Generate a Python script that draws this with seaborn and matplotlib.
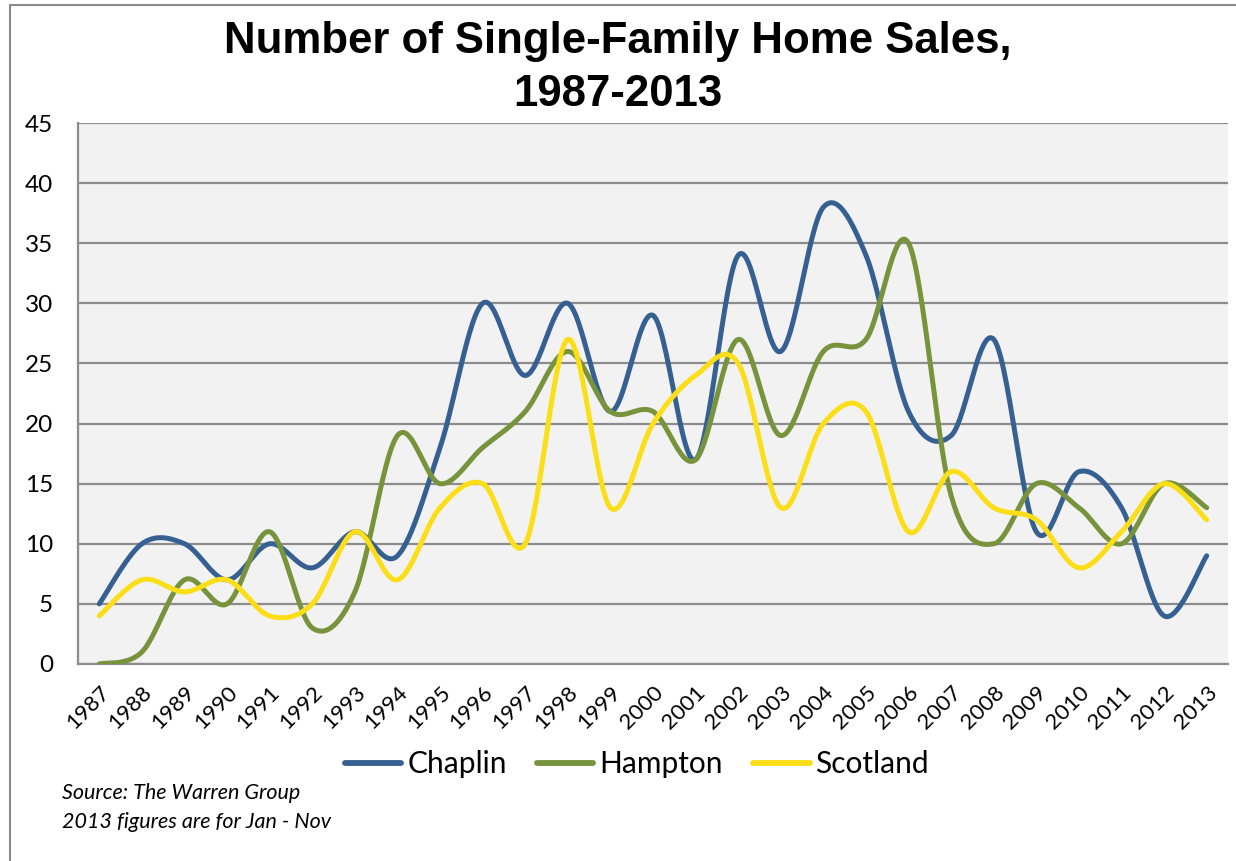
import numpy as np
import pandas as pd
import matplotlib
matplotlib.use("Agg")
import matplotlib.pyplot as plt
import seaborn as sns

years = list(range(1987, 2014))
chaplin = [5, 10, 10, 7, 10, 8, 11, 9, 18, 30, 24, 30, 21, 29, 17, 34, 26, 38, 34, 21, 19, 27, 11, 16, 13, 4, 9]
hampton = [0, 1, 7, 5, 11, 3, 6, 19, 15, 18, 21, 26, 21, 21, 17, 27, 19, 26, 27, 35, 14, 10, 15, 13, 10, 15, 13]
scotland = [4, 7, 6, 7, 4, 5, 11, 7, 13, 15, 10, 27, 13, 20, 24, 25, 13, 20, 21, 11, 16, 13, 12, 8, 11, 15, 12]
towns = ["Chaplin", "Hampton", "Scotland"]
colors = {"Chaplin": "#376092", "Hampton": "#77933C", "Scotland": "#FCDE16"}


def smooth(xs, ys, n=30):
    # excel-style smoothed line (catmull-rom bezier), only for drawing
    p = np.column_stack([xs, ys]).astype(float)
    p = np.vstack([p[0], p, p[-1]])
    out = []
    t = np.linspace(0, 1, n)[:, None]
    for i in range(1, len(p) - 2):
        p0, p1, p2, p3 = p[i - 1], p[i], p[i + 1], p[i + 2]
        c1 = p1 + (p2 - p0) / 6
        c2 = p2 - (p3 - p1) / 6
        seg = ((1 - t) ** 3) * p1 + 3 * ((1 - t) ** 2) * t * c1 + 3 * (1 - t) * t ** 2 * c2 + t ** 3 * p2
        out.append(seg if i == 1 else seg[1:])
    return np.vstack(out)


rows = []
for name, vals in zip(towns, [chaplin, hampton, scotland]):
    curve = smooth(np.arange(len(years)), vals)
    for x, y in curve:
        rows.append({"x": x, "y": y, "town": name})
df = pd.DataFrame(rows)

sns.set_style("white")
plt.rcParams["font.family"] = ["Lato", "DejaVu Sans"]
plt.rcParams["text.color"] = "black"
plt.rcParams["xtick.color"] = "black"
plt.rcParams["ytick.color"] = "black"

fig = plt.figure(figsize=(12.36, 8.61), dpi=100)
ax = fig.add_axes([78 / 1236, 1 - 664 / 861, (1228 - 78) / 1236, (664 - 123) / 861])
ax.set_facecolor("#F2F2F2")

sns.lineplot(data=df, x="x", y="y", hue="town", palette=colors, sort=False,
             estimator=None, linewidth=3.6, ax=ax, zorder=3)

ax.set_xlim(-0.5, len(years) - 0.5)
ax.set_ylim(0, 45)
ax.set_yticks(range(0, 50, 5))
ax.set_yticklabels([str(v) for v in range(0, 50, 5)], fontsize=17.5)
ax.set_xticks(range(len(years)))
ax.set_xticklabels([str(y) for y in years], rotation=45, ha="right",
                   rotation_mode="anchor", fontsize=16)
ax.set_xlabel("")
ax.set_ylabel("")
ax.grid(axis="y", color="#8C8C8C", linewidth=1.6, zorder=1)
ax.set_axisbelow(True)
for s in ["top", "right"]:
    ax.spines[s].set_visible(False)
for s in ["left", "bottom"]:
    ax.spines[s].set_color("#8C8C8C")
    ax.spines[s].set_linewidth(1.6)
ax.tick_params(axis="both", direction="out", length=6, width=1.4, color="#8C8C8C")
ax.tick_params(axis="y", pad=12)
ax.tick_params(axis="x", pad=7)

ax.legend(labels=towns, loc="center", bbox_to_anchor=(0.486, -0.185), ncol=3, frameon=False,
          fontsize=21.5, handlelength=1.9, handletextpad=0.2, columnspacing=1.0)
for h in ax.get_legend().legend_handles:
    h.set_linewidth(4.2)

fig.suptitle("Number of Single-Family Home Sales,\n1987-2013", y=0.976, fontsize=31.5,
             fontweight="bold", family=["Liberation Sans", "DejaVu Sans"], color="black",
             linespacing=1.38)

fig.text(62 / 1236, 1 - 793 / 861, "Source: The Warren Group", fontsize=15.5, style="italic",
         va="center", family=["Lato", "DejaVu Sans"])
fig.text(62 / 1236, 1 - 822 / 861, "2013 figures are for Jan - Nov", fontsize=15.5, style="italic",
         va="center", family=["Lato", "DejaVu Sans"])

border = plt.Rectangle((10 / 1236, -0.1), 1.2, 1 - 5 / 861 + 0.1, transform=fig.transFigure,
                       fill=False, edgecolor="#8C8C8C", linewidth=1.5)
fig.add_artist(border)

fig.savefig("out.png", dpi=100)
